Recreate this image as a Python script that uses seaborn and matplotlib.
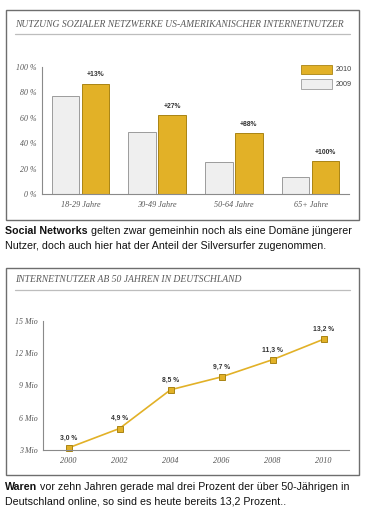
import pandas as pd
import numpy as np
import matplotlib
matplotlib.use('Agg')
import matplotlib.pyplot as plt
from matplotlib.patches import Rectangle
from matplotlib.lines import Line2D
import seaborn as sns

# social networks by age group (percent of US internet users)
age_groups = ['18-29 Jahre', '30-49 Jahre', '50-64 Jahre', '65+ Jahre']
share_2009 = [77, 49, 25, 13]
share_2010 = [87, 62, 48, 26]
growth_labels = ['+13%', '+27%', '+88%', '+100%']

# internet users aged 50+ in Germany (million)
years = [2000, 2002, 2004, 2006, 2008, 2010]
users_mio = [3.2, 5.0, 8.6, 9.8, 11.4, 13.3]
share_labels = ['3,0 %', '4,9 %', '8,5 %', '9,7 %', '11,3 %', '13,2 %']

gold = '#E2B127'
gold_edge = '#A98414'
light = '#EFEFEF'
light_edge = '#9C9C9C'
axis_col = '#8A8A8A'
label_col = '#555555'
serif = 'Liberation Serif'
sans = 'Liberation Sans'

sns.set_style('white')

W, H = 386, 514
fig = plt.figure(figsize=(W / 100, H / 100), dpi=100)


def rect(x0, y0, x1, y1):
    return [x0 / W, 1 - y1 / H, (x1 - x0) / W, (y1 - y0) / H]


def fx(x):
    return x / W


def fy(y):
    return 1 - y / H


# frames around both charts
for y0, y1 in [(9.5, 220), (268, 475)]:
    fig.patches.append(Rectangle((fx(5.5), fy(y1)), (359 - 5.5) / W, (y1 - y0) / H,
                                 transform=fig.transFigure, fill=False,
                                 ec='#6E6E6E', lw=1.0))

# titles and rules
fig.text(fx(15), fy(24), 'NUTZUNG SOZIALER NETZWERKE US-AMERIKANISCHER INTERNETNUTZER',
         family=serif, style='italic', fontsize=6.95, color='#5A5A5A', va='center')
fig.add_artist(Line2D([fx(15), fx(350)], [fy(34.3), fy(34.3)], color='#BDBDBD', lw=0.9))
fig.text(fx(15), fy(280), 'INTERNETNUTZER AB 50 JAHREN IN DEUTSCHLAND',
         family=serif, style='italic', fontsize=6.95, color='#5A5A5A', va='center')
fig.add_artist(Line2D([fx(15), fx(350)], [fy(290), fy(290)], color='#BDBDBD', lw=0.9))


def style_axes(ax):
    sns.despine(ax=ax)
    for s in ['left', 'bottom']:
        ax.spines[s].set_color(axis_col)
        ax.spines[s].set_linewidth(0.8)
    ax.tick_params(axis='y', which='major', direction='in', length=4, width=0.8,
                   color=axis_col, pad=4, labelsize=5.7, labelcolor=label_col)
    ax.tick_params(axis='x', which='major', length=0, pad=5,
                   labelsize=5.9, labelcolor=label_col)
    ax.tick_params(axis='x', which='minor', direction='in', length=3, width=0.8,
                   color=axis_col)
    for t in ax.get_xticklabels() + ax.get_yticklabels():
        t.set_family(serif)
        t.set_style('italic')
    ax.set_xlabel('')
    ax.set_ylabel('')
    ax.set_facecolor('none')


# bar chart
ax1 = fig.add_axes(rect(42, 67, 349, 194))
df = pd.DataFrame({'age': age_groups * 2,
                   'year': ['2009'] * 4 + ['2010'] * 4,
                   'share': share_2009 + share_2010})
sns.barplot(data=df, x='age', y='share', hue='year', hue_order=['2009', '2010'],
            palette={'2009': light, '2010': gold}, saturation=1, width=0.78,
            gap=0.08, legend=False, ax=ax1)
for p in ax1.patches:
    fc = matplotlib.colors.to_hex(p.get_facecolor())
    p.set_edgecolor(gold_edge if fc.lower() == gold.lower() else light_edge)
    p.set_linewidth(0.7)
for i, (v, lbl) in enumerate(zip(share_2010, growth_labels)):
    ax1.text(i + 0.195, v + 4, lbl, ha='center', va='bottom', family=sans,
             weight='bold', fontsize=4.9, color='#333333')
ax1.set_xlim(-0.5, 3.5)
ax1.set_ylim(0, 100)
ax1.set_yticks([0, 20, 40, 60, 80, 100])
ax1.set_yticklabels([f'{v} %' for v in [0, 20, 40, 60, 80, 100]])
ax1.set_xticks([0.5, 1.5, 2.5, 3.5], minor=True)
style_axes(ax1)

# legend
for y0, y1, fc, ec, lbl in [(65, 74, gold, gold_edge, '2010'),
                             (79, 89, light, light_edge, '2009')]:
    fig.patches.append(Rectangle((fx(301), fy(y1)), 31 / W, (y1 - y0) / H,
                                 transform=fig.transFigure, fc=fc, ec=ec, lw=0.6))
    fig.text(fx(336), fy((y0 + y1) / 2), lbl, family=sans, fontsize=5.2,
             color='#444444', va='center')

# line chart
ax2 = fig.add_axes(rect(43, 321, 349, 450))
sns.lineplot(x=years, y=users_mio, color=gold, lw=1.2, marker='s', markersize=4,
             markerfacecolor=gold, markeredgecolor=gold_edge, markeredgewidth=0.7,
             clip_on=False, ax=ax2)
for x, v, lbl in zip(years, users_mio, share_labels):
    ax2.annotate(lbl, (x, v), xytext=(0, 4.5), textcoords='offset points',
                 ha='center', va='bottom', family=sans, weight='bold',
                 fontsize=4.9, color='#333333')
ax2.set_xlim(1999, 2011)
ax2.set_ylim(3, 15)
ax2.set_xticks(years)
ax2.set_xticklabels([str(y) for y in years])
ax2.set_xticks([2001, 2003, 2005, 2007, 2009, 2011], minor=True)
ax2.set_yticks([3, 6, 9, 12, 15])
ax2.set_yticklabels([f'{v} Mio' for v in [3, 6, 9, 12, 15]])
style_axes(ax2)


# captions with bold lead-in
def caption(y, bold, rest):
    t = fig.text(fx(5), fy(y), bold, family=sans, weight='bold', fontsize=7.7,
                 color='#111111', va='center')
    ax2.annotate(rest, xy=(1, 0.5), xycoords=t, xytext=(2.3, 0),
                 textcoords='offset points', va='center', family=sans,
                 fontsize=7.7, color='#111111', annotation_clip=False)


def plain(y, text):
    fig.text(fx(5), fy(y), text, family=sans, fontsize=7.7, color='#111111', va='center')


caption(230.7, 'Social Networks', 'gelten zwar gemeinhin noch als eine Domäne jüngerer')
plain(245.7, 'Nutzer, doch auch hier hat der Anteil der Silversurfer zugenommen.')
caption(487, 'Waren', 'vor zehn Jahren gerade mal drei Prozent der über 50-Jährigen in')
plain(501, 'Deutschland online, so sind es heute bereits 13,2 Prozent..')

fig.savefig('out.png', dpi=100, facecolor='white')
